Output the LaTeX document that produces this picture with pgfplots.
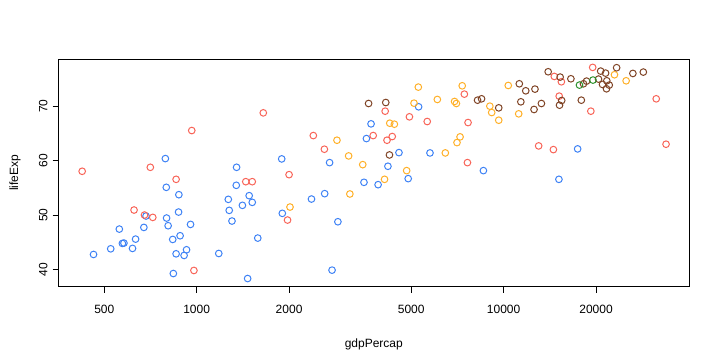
\documentclass[border=0pt]{standalone}
\usepackage{pgfplots}
\pgfplotsset{compat=1.18}
\usepackage{fontspec}
\setmainfont{Liberation Sans}
\definecolor{cAfr}{RGB}{62,130,245}
\definecolor{cAsi}{RGB}{248,100,88}
\definecolor{cAme}{RGB}{255,176,40}
\definecolor{cEur}{RGB}{128,68,38}
\definecolor{cOce}{RGB}{46,146,46}
\begin{document}
\begin{tikzpicture}[font=\fontsize{9}{11}\selectfont]
\useasboundingbox (0,0) rectangle (540pt,270pt);
\begin{axis}[
  at={(43.9pt,55.1pt)}, anchor=south west,
  scale only axis, width=472.9pt, height=170.6pt,
  xmin=2.550, xmax=4.604, ymin=36.87, ymax=78.65,
  xtick={2.69897,3,3.30103,3.69897,4,4.30103},
  xticklabels={500,1000,2000,5000,10000,20000},
  ytick={40,50,60,70},
  /pgf/number format/assume math mode=true,
  tick align=outside, major tick length=4.5pt,
  xtick pos=bottom, ytick pos=left,
  tick style={black, line width=0.6pt},
  axis line style={black, line width=0.6pt},
  xticklabel style={anchor=center, yshift=-12.5pt},
  yticklabel={\rotatebox{90}{\pgfmathprintnumber{\tick}}},
  yticklabel style={anchor=center, xshift=-7pt},
  xlabel={gdpPercap}, ylabel={lifeExp},
  xlabel style={at={(axis description cs:0.5,0)}, anchor=center, yshift=-43.1pt},
  ylabel style={at={(axis description cs:-0.0689,0.5)}, anchor=center},
  every axis plot/.append style={only marks, mark=o, mark size=2.5pt, line width=0.75pt},
  clip=false,
]
\addplot[color=cAfr] coordinates {
(2.664,42.76) (2.720,43.80) (2.748,47.42) (2.758,44.79) (2.763,44.85) (2.791,43.87)
(2.801,45.58) (2.828,47.73) (2.835,49.82) (2.898,60.37) (2.901,55.09) (2.902,49.45)
(2.907,48.04) (2.922,45.52) (2.924,39.26) (2.933,42.88) (2.941,50.55) (2.942,53.74)
(2.946,46.20) (2.959,42.58) (2.967,43.62) (2.980,48.28) (3.072,42.94) (3.103,52.88)
(3.106,50.86) (3.115,48.90) (3.130,58.77) (3.129,55.46) (3.149,51.78) (3.171,53.56)
(3.181,52.33) (3.199,45.77) (3.166,38.34) (3.277,60.31) (3.279,50.31) (3.374,52.94)
(3.417,53.93) (3.433,59.63) (3.441,39.88) (3.460,48.77) (3.545,56.01) (3.553,64.05)
(3.568,66.75) (3.591,55.58) (3.623,58.96) (3.659,61.47) (3.689,56.69) (3.723,69.88)
(3.760,61.41) (3.934,58.16) (4.180,56.56) (4.241,62.15)
};
\addplot[color=cAsi] coordinates {
(2.627,58.04) (2.796,50.92) (2.830,50.00) (2.849,58.77) (2.857,49.57) (2.933,56.56)
(2.984,65.52) (2.991,39.82) (3.160,56.13) (3.181,56.13) (3.217,68.77) (3.301,57.42)
(3.296,49.08) (3.380,64.60) (3.416,62.09) (3.575,64.60) (3.614,69.08) (3.620,63.74)
(3.637,64.42) (3.693,68.04) (3.751,67.18) (3.872,72.21) (3.884,66.99) (3.882,59.63)
(4.114,62.70) (4.165,75.46) (4.188,74.48) (4.181,71.84) (4.162,62.02) (4.290,77.12)
(4.284,69.08) (4.497,71.35) (4.529,63.01)
};
\addplot[color=cAme] coordinates {
(3.304,51.47) (3.457,63.74) (3.495,60.86) (3.499,53.87) (3.541,59.26) (3.629,66.87)
(3.644,66.69) (3.612,56.56) (3.684,58.16) (3.722,73.50) (3.708,70.55) (3.784,71.23)
(3.810,61.41) (3.840,70.86) (3.846,70.49) (3.865,73.74) (3.858,64.36) (3.848,63.31)
(3.955,70.00) (3.961,68.83) (3.984,67.42) (4.015,73.80) (4.049,68.59) (4.361,75.77)
(4.399,74.66)
};
\addplot[color=cEur] coordinates {
(3.560,70.49) (3.616,70.67) (3.628,61.04) (3.915,71.10) (3.928,71.35) (3.984,69.69)
(4.051,74.11) (4.072,72.82) (4.056,70.80) (4.102,73.13) (4.123,70.49) (4.099,69.39)
(4.145,76.32) (4.184,75.34) (4.189,71.04) (4.182,70.18) (4.219,75.03) (4.260,74.11)
(4.270,74.60) (4.309,74.97) (4.316,76.44) (4.322,73.99) (4.332,76.07) (4.336,74.66)
(4.344,73.87) (4.335,73.19) (4.368,77.06) (4.253,71.10) (4.421,76.01) (4.455,76.26)
};
\addplot[color=cOce] coordinates {
(4.247,73.87) (4.291,74.79)
};
\end{axis}
\end{tikzpicture}
\end{document}
